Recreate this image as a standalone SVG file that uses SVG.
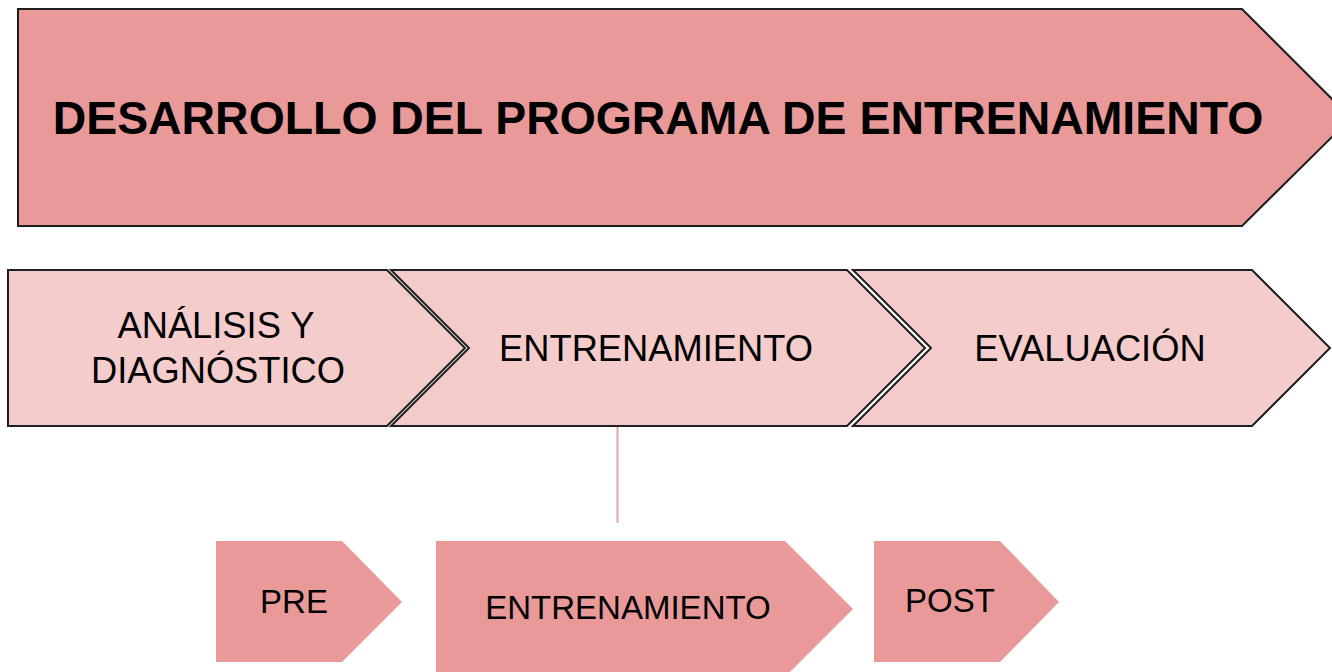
<svg xmlns="http://www.w3.org/2000/svg" width="1332" height="672" viewBox="0 0 1332 672">
<style>
.dark{fill:#EA9999;stroke:#1f1f1f;stroke-width:2;stroke-linejoin:miter}
.light{fill:#F4CCCC;stroke:#1f1f1f;stroke-width:2;stroke-linejoin:miter}
.sub{fill:#EA9999;stroke:none}
.t{font-family:"Liberation Sans",Arial,sans-serif;fill:#000;text-anchor:middle}
.title{font-size:46.4px;font-weight:bold}
.mid{font-size:36.3px}
.low{font-size:33px}
.conn{stroke:#E8A3A3;stroke-width:2;fill:none}
</style>
<rect width="1332" height="672" fill="#ffffff"/>
<g id="connectors">
<line class="conn" x1="617.5" y1="427" x2="617.5" y2="523"/>
</g>
<g id="main">
<polygon class="dark" points="18,9 1242,9 1351,118 1242,226 18,226"/>
<text class="t title" x="658" y="134">DESARROLLO DEL PROGRAMA DE ENTRENAMIENTO</text>
</g>
<g id="analisis">
<polygon class="light" points="8,270 387,270 465,348 387,426 8,426"/>
<text class="t mid" x="216" y="338">ANÁLISIS Y</text>
<text class="t mid" x="218" y="383">DIAGNÓSTICO</text>
</g>
<g id="entrenamiento">
<polygon class="light" points="391,270 847,270 925,348 847,426 391,426 469,348"/>
<text class="t mid" x="656" y="361">ENTRENAMIENTO</text>
</g>
<g id="evaluacion">
<polygon class="light" points="853,270 1252,270 1330,348 1252,426 853,426 931,348"/>
<text class="t mid" x="1090" y="361">EVALUACIÓN</text>
</g>
<g id="pre">
<polygon class="sub" points="216,541 342,541 402,602 342,662 216,662"/>
<text class="t low" x="294" y="613">PRE</text>
</g>
<g id="entrenamiento2">
<polygon class="sub" points="436,541 785,541 853,609 785,677 436,677"/>
<text class="t low" x="628" y="619">ENTRENAMIENTO</text>
</g>
<g id="post">
<polygon class="sub" points="874,541 1000,541 1059,602 1000,662 874,662"/>
<text class="t low" x="950" y="612">POST</text>
</g>
</svg>
